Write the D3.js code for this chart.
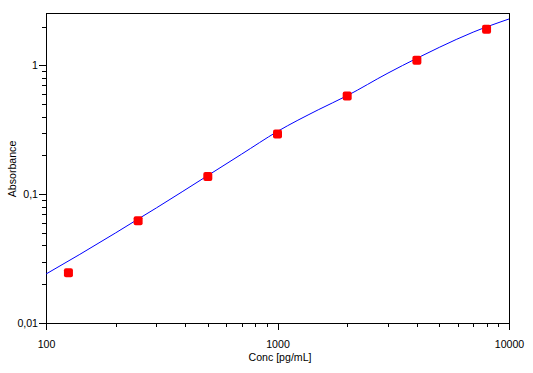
<!DOCTYPE html>
<html>
<head>
<meta charset="utf-8">
<script src="https://cdn.jsdelivr.net/npm/d3@7"></script>
<style>
    body { margin: 0; background: #fff; }
    text { font-family: "Liberation Sans", Arial, sans-serif; font-size: 10.6px; fill: #000; }
</style>
</head>
<body>
<div class="chart"></div>
<script>
const WIDTH = 533;
const HEIGHT = 373;
const MARGIN = {top: 13, right: 24, bottom: 50, left: 46};

const INNER_WIDTH = WIDTH - MARGIN.left - MARGIN.right;
const INNER_HEIGHT = HEIGHT - MARGIN.top - MARGIN.bottom;

// standards (measured)
var concentrations = [125, 250, 500, 1000, 2000, 4000, 8000];
var absorbances = [0.0246, 0.0622, 0.137, 0.293, 0.578, 1.096, 1.906];

// fitted curve
var fitConc = [100, 140, 200, 250, 300, 500, 700, 1000, 1500, 2000, 3000, 4000, 5000, 7000, 10000];
var fitAbs = [0.0240, 0.0341, 0.0501, 0.0641, 0.0783, 0.1396, 0.2046, 0.307, 0.452, 0.582, 0.871, 1.135, 1.380, 1.811, 2.291];

var xMajorTicks = [100, 1000, 10000];
var xMinorTicks = [200, 300, 400, 500, 600, 700, 800, 900, 2000, 3000, 4000, 5000, 6000, 7000, 8000, 9000];
var yMajorTicks = [0.01, 0.1, 1];
var yMinorTicks = [0.02, 0.03, 0.04, 0.05, 0.06, 0.07, 0.08, 0.09, 0.2, 0.3, 0.4, 0.5, 0.6, 0.7, 0.8, 0.9, 2];

var xScale, yScale, svg, plot;

var translate = function(x, y){
    return "translate(" + x + "," + y + ")";
};

var commaFormat = function(d){
    return String(d).replace(".", ",");
};

var styleAxis = function(g){
    g.select(".domain").remove();
    g.selectAll("line").attr("stroke", "#000").attr("shape-rendering", "crispEdges");
    g.attr("font-family", null).attr("font-size", null);
};

var generateAxis = function(){
    xScale = d3.scaleLog()
        .domain([100, 10000])
        .range([0, INNER_WIDTH]);

    yScale = d3.scaleLog()
        .domain([0.01, 2.55])
        .range([INNER_HEIGHT, 0]);

    plot.append("g")
        .attr("transform", translate(0, INNER_HEIGHT))
        .call(d3.axisBottom(xScale).tickValues(xMinorTicks).tickSize(4).tickFormat(""))
        .call(styleAxis);

    plot.append("g")
        .attr("transform", translate(0, INNER_HEIGHT))
        .call(d3.axisBottom(xScale).tickValues(xMajorTicks).tickSize(7).tickPadding(10.5).tickFormat(d3.format("d")))
        .call(styleAxis);

    plot.append("g")
        .call(d3.axisLeft(yScale).tickValues(yMinorTicks).tickSize(4).tickFormat(""))
        .call(styleAxis);

    plot.append("g")
        .call(d3.axisLeft(yScale).tickValues(yMajorTicks).tickSize(7).tickPadding(1).tickFormat(commaFormat))
        .call(styleAxis);

    plot.append("rect")
        .attr("width", INNER_WIDTH)
        .attr("height", INNER_HEIGHT)
        .attr("fill", "none")
        .attr("stroke", "#000")
        .attr("shape-rendering", "crispEdges");

    svg.append("text")
        .attr("x", 280)
        .attr("y", 361)
        .attr("text-anchor", "middle")
        .text("Conc [pg/mL]");

    svg.append("text")
        .attr("transform", translate(15.5, 169) + " rotate(-90)")
        .attr("text-anchor", "middle")
        .text("Absorbance");
};

var drawCurve = function(){
    var line = d3.line()
        .x(function(d, i){ return xScale(fitConc[i]); })
        .y(function(d){ return yScale(d); })
        .curve(d3.curveMonotoneX);

    plot.append("path")
        .attr("d", line(fitAbs))
        .attr("fill", "none")
        .attr("stroke", "#0000ff")
        .attr("stroke-width", 1);
};

var drawPoints = function(){
    plot.selectAll("rect.pt")
        .data(absorbances)
        .enter()
        .append("rect")
        .attr("class", "pt")
        .attr("x", function(d, i){ return xScale(concentrations[i]) - 4.5; })
        .attr("y", function(d){ return yScale(d) - 4.5; })
        .attr("width", 9)
        .attr("height", 9)
        .attr("rx", 2)
        .attr("fill", "#f00");
};

var generateChart = function(){
    svg = d3.select(".chart").append("svg")
        .attr("width", WIDTH)
        .attr("height", HEIGHT);

    plot = svg.append("g")
        .attr("transform", translate(MARGIN.left, MARGIN.top));

    generateAxis();
    drawCurve();
    drawPoints();
};

window.onload = generateChart;
</script>
</body>
</html>
